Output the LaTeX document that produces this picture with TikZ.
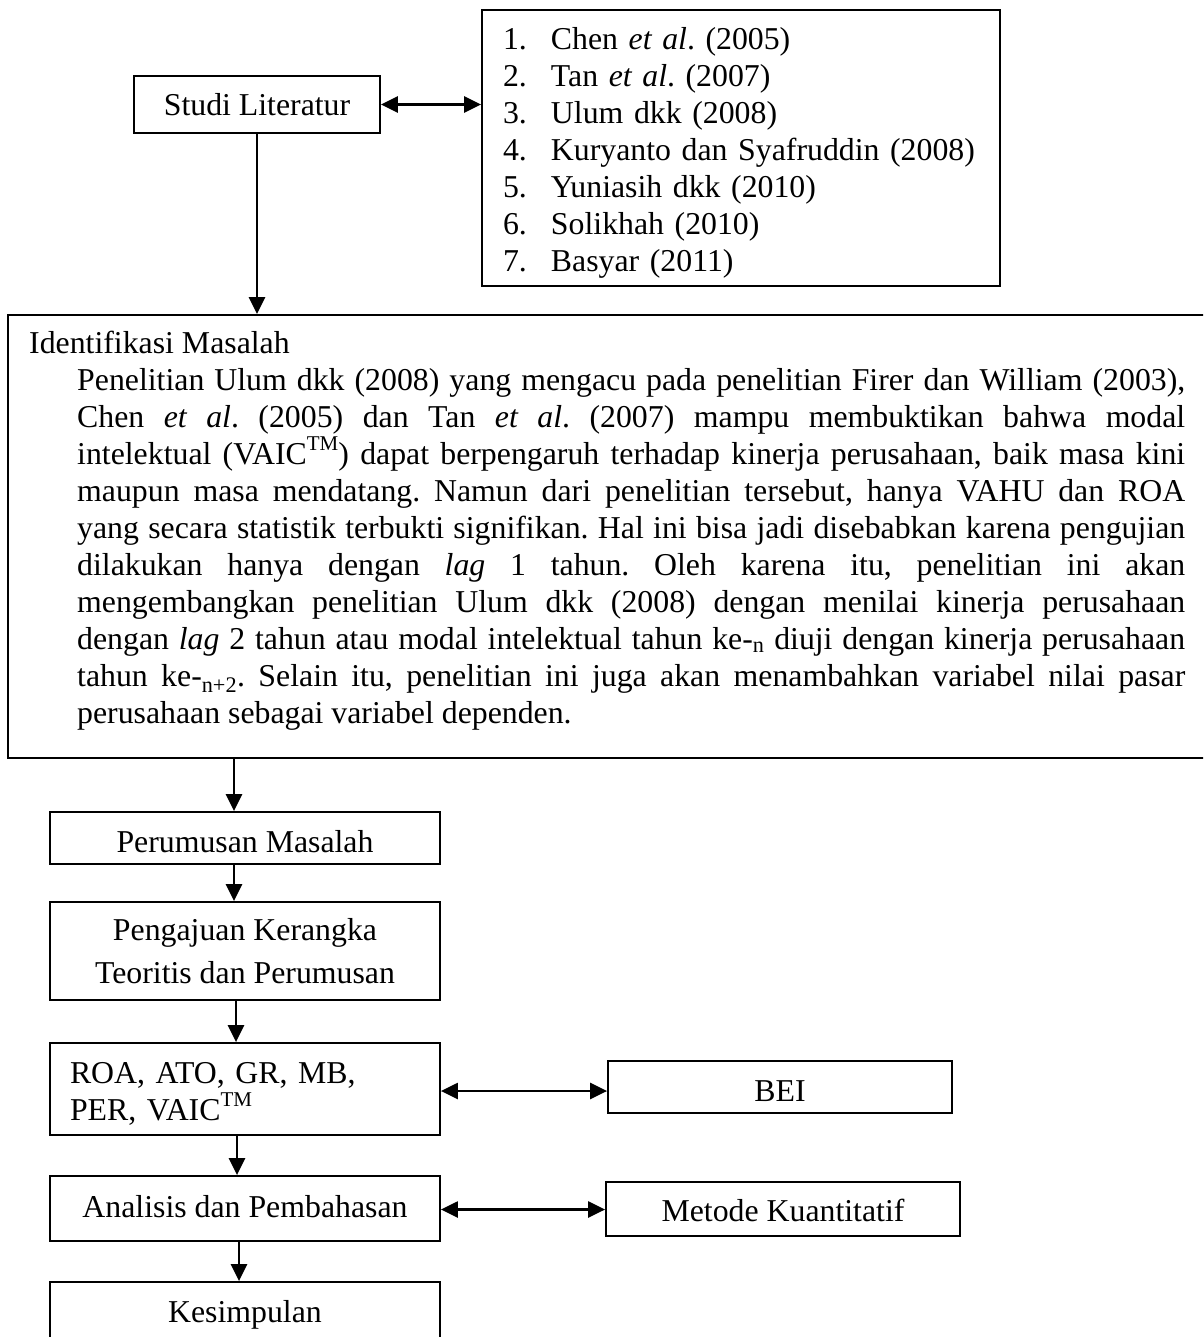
\documentclass[tikz,border=0pt]{standalone}
\usepackage{fontspec}
\setmainfont{Liberation Serif}
\usetikzlibrary{arrows.meta,calc}
\frenchspacing
\newcommand{\tmsup}{\raisebox{0.42em}{\fontsize{21pt}{21pt}\selectfont TM}}
\begin{document}
\begin{tikzpicture}[x=1pt,y=-1pt,
  every node/.style={font={\fontsize{31.8pt}{37pt}\selectfont\frenchspacing}},
  box/.style={draw, line width=1.8pt, inner sep=0pt, align=center},
  arr/.style={line width=2.4pt, -{Triangle[length=17pt,width=16pt]}},
  darr/.style={line width=2.4pt, {Triangle[length=17pt,width=16pt]}-{Triangle[length=17pt,width=16pt]}}]
\useasboundingbox (0,0) rectangle (1203,1337);
\clip (0,0) rectangle (1203,1337);
\fill[white] (0,0) rectangle (1203,1337);

% top part
\node[box, minimum width=246pt, minimum height=57pt] (studi) at (257,104.5) {Studi Literatur};
\node[box, minimum width=518pt, minimum height=276pt, text width=476pt, align=left] (lit) at (741,148) {%
\rule{0pt}{32pt}\makebox[48pt][l]{1.}Chen \textit{et al}. (2005)\\
\makebox[48pt][l]{2.}Tan \textit{et al}. (2007)\\
\makebox[48pt][l]{3.}Ulum dkk (2008)\\
\makebox[48pt][l]{4.}Kuryanto dan Syafruddin (2008)\\
\makebox[48pt][l]{5.}Yuniasih dkk (2010)\\
\makebox[48pt][l]{6.}Solikhah (2010)\\
\makebox[48pt][l]{7.}Basyar (2011)};

% identifikasi masalah
\node[box, minimum width=1215pt, minimum height=443pt] (idm) at (615.5,536.5) {};
\node[anchor=base west, inner sep=0pt] (idmtext) at (29,353) {\parbox[t]{1156pt}{%
Identifikasi Masalah\par
\leftskip=48pt \tolerance=10000 \hyphenpenalty=10000 \exhyphenpenalty=10000
Penelitian Ulum dkk (2008) yang mengacu pada penelitian Firer dan William (2003),\linebreak
Chen \textit{et al}. (2005) dan Tan \textit{et al}. (2007) mampu membuktikan bahwa modal\linebreak
intelektual (VAIC\tmsup) dapat berpengaruh terhadap kinerja perusahaan, baik masa kini\linebreak
maupun masa mendatang. Namun dari penelitian tersebut, hanya VAHU dan ROA\linebreak
yang secara statistik terbukti signifikan. Hal ini bisa jadi disebabkan karena pengujian\linebreak
dilakukan hanya dengan \textit{lag} 1 tahun. Oleh karena itu, penelitian ini akan\linebreak
mengembangkan penelitian Ulum dkk (2008) dengan menilai kinerja perusahaan\linebreak
dengan \textit{lag} 2 tahun atau modal intelektual tahun ke-\textsubscript{n} diuji dengan kinerja perusahaan\linebreak
tahun ke-\textsubscript{n+2}. Selain itu, penelitian ini juga akan menambahkan variabel nilai pasar\linebreak
perusahaan sebagai variabel dependen.\par}};

% lower chain
\node[box, minimum width=390pt, minimum height=52pt, text height=28pt, text depth=0pt] (pm) at (245,838) {Perumusan Masalah};
\node[box, minimum width=390pt, minimum height=98pt] (pk) at (245,951) {Pengajuan Kerangka\\[6pt]Teoritis dan Perumusan};
\node[box, minimum width=390pt, minimum height=92pt, text width=350pt, align=left] (roa) at (245,1089) {\rule{0pt}{30pt}ROA, ATO, GR, MB,\\PER, VAIC\tmsup};
\node[box, minimum width=390pt, minimum height=65pt, text height=18pt, text depth=0pt] (ana) at (245,1208.5) {Analisis dan Pembahasan};
\node[box, minimum width=390pt, minimum height=60pt, text height=21pt, text depth=0pt] (kes) at (245,1312) {Kesimpulan};
\node[box, minimum width=344pt, minimum height=52pt, text height=28pt, text depth=0pt] (bei) at (780,1087) {BEI};
\node[box, minimum width=354pt, minimum height=54pt, text height=24pt, text depth=0pt] (met) at (783,1209) {Metode Kuantitatif};

% connectors
\draw[darr] (studi.east) -- (studi.east -| lit.west);
\draw[arr] (studi.south) -- (studi.south |- idm.north);
\draw[arr] ([xshift=-11pt]pm.north |- idm.south) -- ([xshift=-11pt]pm.north);
\draw[arr] ([xshift=-11pt]pm.south) -- ([xshift=-11pt]pk.north);
\draw[arr] ([xshift=-9pt]pk.south) -- ([xshift=-9pt]roa.north);
\draw[arr] ([xshift=-8pt]roa.south) -- ([xshift=-8pt]ana.north);
\draw[arr] ([xshift=-6pt]ana.south) -- ([xshift=-6pt]kes.north);
\draw[darr] ([yshift=-2pt]roa.east) -- ([yshift=-2pt]roa.east -| bei.west);
\draw[darr] ([yshift=-1pt]ana.east) -- ([yshift=-1pt]ana.east -| met.west);
\end{tikzpicture}
\end{document}
